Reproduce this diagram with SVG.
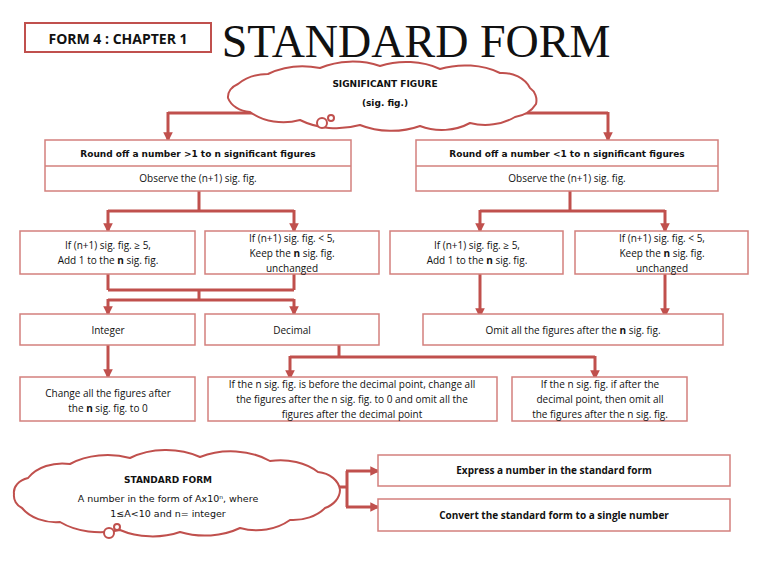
<svg xmlns="http://www.w3.org/2000/svg" width="768" height="576" viewBox="0 0 768 576">
<defs>
<marker id="ah" viewBox="0 0 10 10" refX="8" refY="5" markerWidth="3.2" markerHeight="3.2" orient="auto"><path d="M0,0 L10,5 L0,10 z" fill="#c0504d"/></marker>
<style>
.box{fill:#fff;stroke:#d3807d;stroke-width:1.5}
.cl{fill:#fff;stroke:#c0504d;stroke-width:2}
.c{fill:none;stroke:#c0504d;stroke-width:3}
.a{marker-end:url(#ah)}
text{font-family:"Open Sans","Liberation Sans",sans-serif;font-size:10px;fill:#111;text-anchor:middle}
.cm{font-family:"DejaVu Sans",sans-serif;font-weight:bold;font-size:9px}
.cmn{font-family:"DejaVu Sans",sans-serif;font-size:9.5px}
.b{font-weight:bold}
</style>
</defs>
<g id="header">
<rect x="25" y="23" width="186" height="29" fill="#fff" stroke="#c0504d" stroke-width="2"/>
<text x="118" y="44" class="b" style="font-size:14px">FORM 4 : CHAPTER 1</text>
<text x="416" y="57" style="font-family:'Liberation Serif',serif;font-size:46px">STANDARD FORM</text>
</g>
<g id="connectors">
<path class="c" d="M168,113 H608"/>
<path class="c a" d="M168,112 V140"/>
<path class="c a" d="M608,112 V140"/>
<path class="c" d="M199,191 V211 M108,211 H294"/>
<path class="c a" d="M108,210 V231"/><path class="c a" d="M294,210 V231"/>
<path class="c" d="M570,191 V211 M480,211 H665"/>
<path class="c a" d="M480,210 V231"/><path class="c a" d="M665,210 V231"/>
<path class="c" d="M108,274 V290 M294,274 V290 M108,290 H294 M199,290 V300 M108,300 H294"/>
<path class="c a" d="M108,299 V314"/><path class="c a" d="M294,299 V314"/>
<path class="c a" d="M480,274 V316"/><path class="c a" d="M665,274 V316"/>
<path class="c a" d="M108,345 V377"/>
<path class="c" d="M339,345 V357 M290,357 H595"/>
<path class="c a" d="M290,356 V378"/><path class="c a" d="M595,356 V378"/>
<path class="c" d="M330,487 H347 M347,471 V507"/>
<path class="c a" d="M346,471 H378"/><path class="c a" d="M346,507 H378"/>
</g>
<g id="cloud1">
<path class="cl" d="M238,84 A40,30 0 0 1 268,74 A60,40 0 0 1 320,68 A60,40 0 0 1 380,66 A60,40 0 0 1 440,69 A60,40 0 0 1 500,73 A30,25 0 0 1 530,88 A15,15 0 0 1 536,104 A30,25 0 0 1 515,117 A50,40 0 0 1 470,123 A50,40 0 0 1 420,126 A60,40 0 0 1 360,125 A60,40 0 0 1 300,120 A50,40 0 0 1 250,112 A25,20 0 0 1 228,98 A20,15 0 0 1 238,84 Z"/>
<ellipse class="cl" cx="322" cy="123" rx="5" ry="5"/>
<ellipse class="cl" cx="331" cy="118" rx="3" ry="3"/>
<text x="385" y="87" class="cm">SIGNIFICANT FIGURE</text>
<text x="385" y="106" class="cm">(sig. fig.)</text>
</g>
<g id="L1"><rect class="box" x="45" y="140" width="306" height="51"/><line x1="45" y1="166" x2="351" y2="166" stroke="#d3807d" stroke-width="1.5"/>
<text x="198" y="157" class="cm">Round off a number &gt;1 to n significant figures</text>
<text x="198" y="182">Observe the (n+1) sig. fig.</text></g>
<g id="R1"><rect class="box" x="416" y="140" width="302" height="51"/><line x1="416" y1="166" x2="718" y2="166" stroke="#d3807d" stroke-width="1.5"/>
<text x="567" y="157" class="cm">Round off a number &lt;1 to n significant figures</text>
<text x="567" y="182">Observe the (n+1) sig. fig.</text></g>
<g id="A"><rect class="box" x="20" y="231" width="175" height="43"/><text x="108" y="249">If (n+1) sig. fig. ≥ 5,</text><text x="108" y="264">Add 1 to the <tspan class="b">n</tspan> sig. fig.</text></g>
<g id="B"><rect class="box" x="205" y="231" width="174" height="43"/><text x="292" y="242">If (n+1) sig. fig. &lt; 5,</text><text x="292" y="257">Keep  the  <tspan class="b">n</tspan> sig. fig.</text><text x="292" y="272">unchanged</text></g>
<g id="C"><rect class="box" x="390" y="231" width="173" height="43"/><text x="477" y="249">If (n+1) sig. fig. ≥ 5,</text><text x="477" y="264">Add 1 to the <tspan class="b">n</tspan> sig. fig.</text></g>
<g id="D"><rect class="box" x="575" y="231" width="173" height="43"/><text x="662" y="242">If (n+1) sig. fig. &lt; 5,</text><text x="662" y="257">Keep  the  <tspan class="b">n</tspan> sig. fig.</text><text x="662" y="272">unchanged</text></g>
<g id="Integer"><rect class="box" x="20" y="314" width="175" height="31"/><text x="108" y="334">Integer</text></g>
<g id="Decimal"><rect class="box" x="205" y="314" width="174" height="31"/><text x="292" y="334">Decimal</text></g>
<g id="Omit"><rect class="box" x="423" y="314" width="300" height="31"/><text x="573" y="334">Omit all the figures after the <tspan class="b">n</tspan> sig. fig.</text></g>
<g id="Change"><rect class="box" x="20" y="377" width="175" height="44"/><text x="108" y="397">Change all the figures after</text><text x="108" y="412">the <tspan class="b">n</tspan> sig. fig. to 0</text></g>
<g id="Before"><rect class="box" x="208" y="377" width="289" height="44"/><text x="352" y="388">If the n sig. fig. is before the decimal point, change all</text><text x="352" y="403">the figures after the n sig. fig. to  0 and omit all the</text><text x="352" y="418">figures after the decimal point</text></g>
<g id="After"><rect class="box" x="512" y="377" width="175" height="44"/><text x="600" y="388">If the n sig. fig. if after the</text><text x="600" y="403">decimal point, then omit all</text><text x="600" y="418">the figures after the n sig. fig.</text></g>
<g id="cloud2">
<path class="cl" d="M28,478 A40,30 0 0 1 70,464 A60,40 0 0 1 130,458 A60,40 0 0 1 200,457 A60,40 0 0 1 270,461 A50,35 0 0 1 318,472 A25,20 0 0 1 340,490 A25,20 0 0 1 325,508 A40,30 0 0 1 290,520 A50,40 0 0 1 240,528 A60,40 0 0 1 180,532 A60,40 0 0 1 120,530 A60,40 0 0 1 60,522 A40,30 0 0 1 22,508 A15,14 0 0 1 14,494 A20,15 0 0 1 28,478 Z"/>
<ellipse class="cl" cx="109" cy="533" rx="5" ry="5"/>
<ellipse class="cl" cx="117" cy="527" rx="3" ry="3"/>
<text x="168" y="483" class="cm">STANDARD FORM</text>
<text x="168" y="502" class="cmn">A number in the form of Ax10ⁿ, where</text>
<text x="168" y="517" class="cmn">1≤A&lt;10 and n= integer</text>
</g>
<g id="Express"><rect class="box" x="378" y="455" width="352" height="31"/><text x="554" y="474" class="b">Express a number in the standard form</text></g>
<g id="Convert"><rect class="box" x="378" y="499" width="352" height="32"/><text x="554" y="519" class="b">Convert the standard form to a single number</text></g>
</svg>
